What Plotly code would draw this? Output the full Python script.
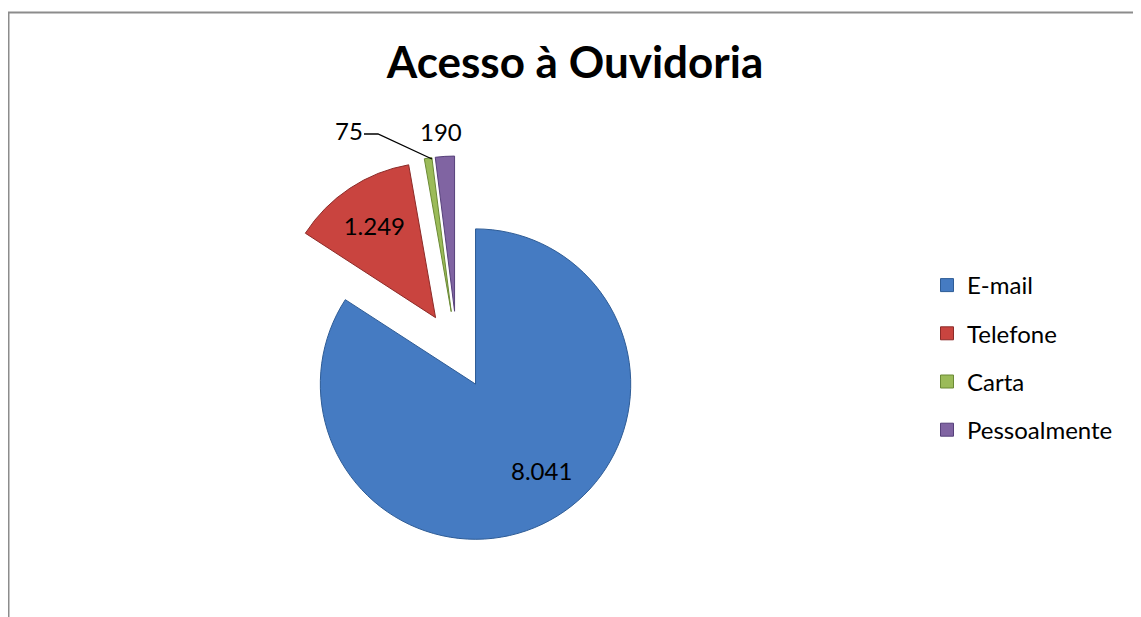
import plotly.graph_objects as go

categories = ["E-mail", "Telefone", "Carta", "Pessoalmente"]
values = [8041, 1249, 75, 190]
colors = ["#457BC2", "#C9443F", "#9BBB59", "#8064A2"]
edge_colors = ["#2E5C96", "#8C2B28", "#6B8A35", "#56407A"]
text_positions = ["none", "inside", "none", "none"]
title_text = "Acesso à Ouvidoria"

# page body has an 8px margin; figure occupies the rest of the 1141x617 window
OFF = 8
W, H = 1141 - OFF, 617 - OFF


def fmt(v):
    return f"{v:,}".replace(",", ".")


def px(x):
    return (x - OFF) / W


def py(y):
    return 1 - (y - OFF) / H


fig = go.Figure()
fig.add_trace(go.Pie(
    labels=categories, values=values, sort=False, direction="clockwise", rotation=0,
    pull=[0.25] * len(values),
    marker=dict(colors=colors, line=dict(color=edge_colors, width=1)),
    texttemplate="%{value:,}", textposition=text_positions,
    insidetextorientation="horizontal",
    textfont=dict(family="Lato", size=24, color="black"),
    showlegend=False, hoverinfo="label+value+percent",
    domain=dict(x=[px(263), px(651)], y=[py(544), py(156)]),
))

for cat, col, ec in zip(categories, colors, edge_colors):
    fig.add_trace(go.Scatter(
        x=[None], y=[None], mode="markers", name=cat, legendgroup=cat,
        marker=dict(symbol="square", size=13, color=col, line=dict(color=ec, width=1)),
        showlegend=True, hoverinfo="skip",
    ))

label_font = dict(family="Lato", size=24, color="black")
label_pos = {0: (541, 470), 2: (349, 131), 3: (441, 132)}
annotations = [
    dict(text=fmt(values[i]), x=px(xx), y=py(yy), xref="paper", yref="paper",
         xanchor="center", yanchor="middle", showarrow=False, font=label_font)
    for i, (xx, yy) in label_pos.items()
]

shapes = [
    dict(type="line", xref="paper", yref="paper", x0=px(8.5), x1=px(8.5), y0=py(12), y1=py(620),
         line=dict(color="#8C8C8C", width=2)),
    dict(type="line", xref="paper", yref="paper", x0=px(8), x1=px(1145), y0=py(12.5), y1=py(12.5),
         line=dict(color="#8C8C8C", width=2)),
    dict(type="path", xref="paper", yref="paper",
         path=f"M {px(364)} {py(134)} L {px(378)} {py(134)} L {px(432)} {py(159)}",
         line=dict(color="black", width=1.3)),
]

fig.update_layout(
    width=W, height=H, margin=dict(l=0, r=0, t=0, b=0),
    paper_bgcolor="white", plot_bgcolor="white",
    separators=",.",
    title=dict(text=f"<b>{title_text}</b>", x=px(575), xanchor="center", y=py(63), yanchor="middle",
               xref="paper", yref="paper", font=dict(family="Lato", size=44, color="black")),
    xaxis=dict(visible=False), yaxis=dict(visible=False),
    legend=dict(x=px(927), y=py(263), xanchor="left", yanchor="top", tracegroupgap=14,
                font=dict(family="Lato", size=24, color="black"), bgcolor="rgba(0,0,0,0)"),
    annotations=annotations, shapes=shapes,
)

fig.write_html("out.html")
